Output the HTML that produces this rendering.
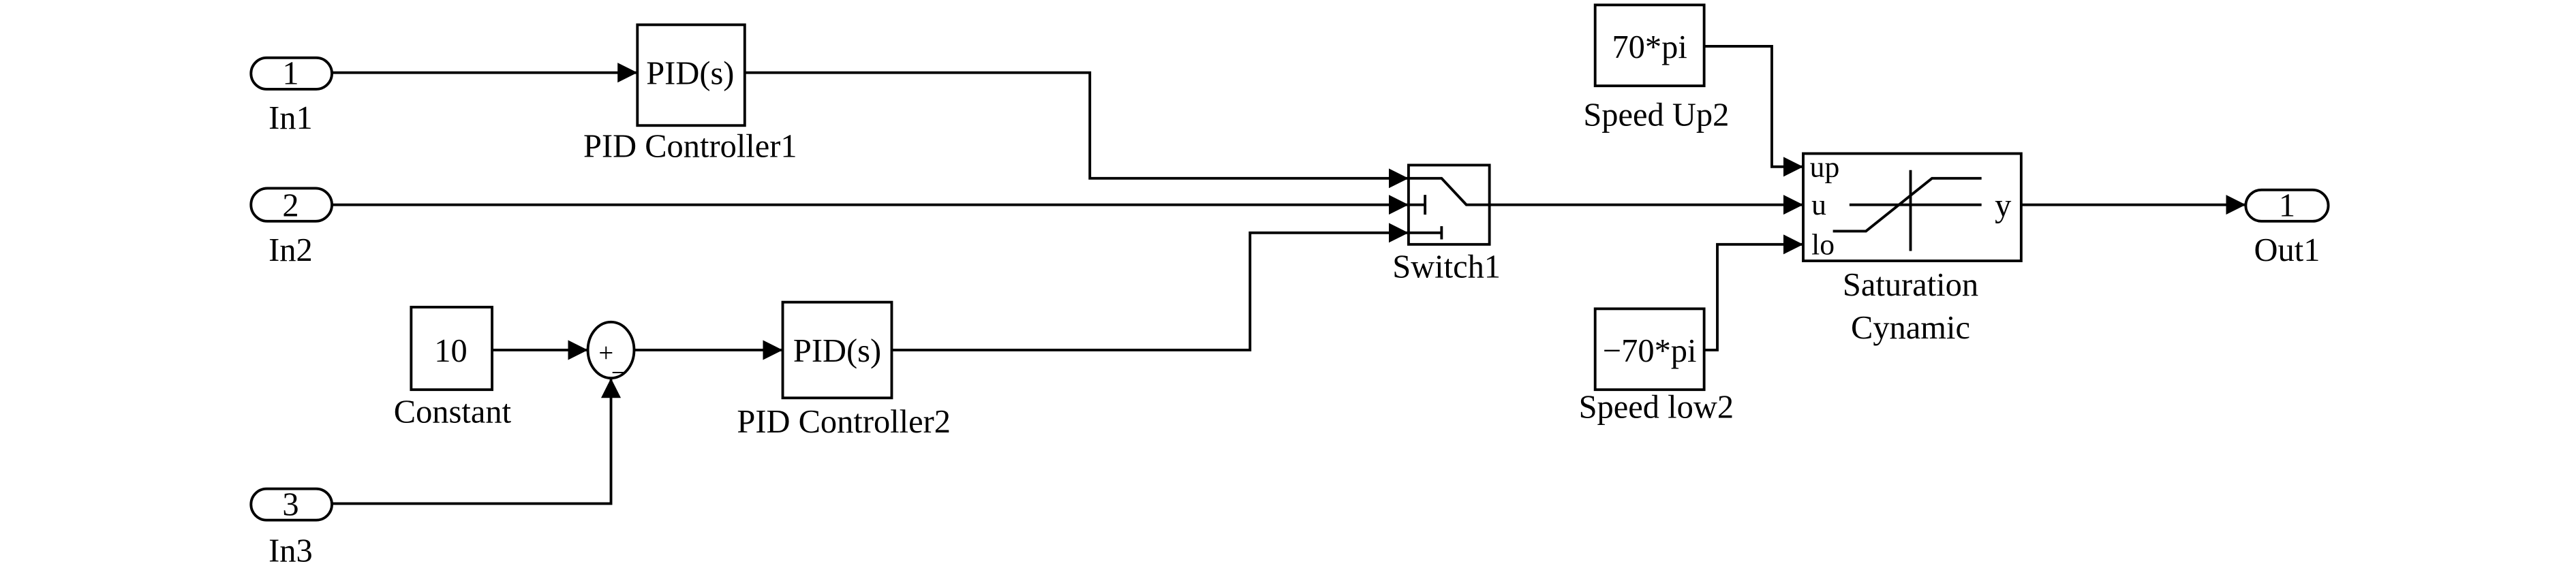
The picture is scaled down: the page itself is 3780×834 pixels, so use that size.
<!DOCTYPE html>
<html><head><meta charset="utf-8"><style>
html,body{margin:0;padding:0;background:#fff;}
svg{display:block;}
text{font-family:"Liberation Serif",serif;fill:#000;}
</style></head><body>
<svg width="3780" height="834" viewBox="0 0 1560 344" preserveAspectRatio="none" xmlns="http://www.w3.org/2000/svg">
<defs><marker id="a" markerWidth="12" markerHeight="12" refX="12" refY="6" orient="auto" markerUnits="userSpaceOnUse"><path d="M0,0 L12,6 L0,12 z" fill="#000"/></marker></defs>
<g stroke="#000" stroke-width="1.6" fill="none">
<!-- In ports -->
<rect x="152" y="35" width="49" height="19" rx="9.5"/>
<rect x="152" y="114" width="49" height="20" rx="10"/>
<rect x="152" y="296" width="49" height="19" rx="9.5"/>
<rect x="1360" y="115" width="50" height="19" rx="9.5"/>
<!-- boxes -->
<rect x="386" y="15" width="65" height="61"/>
<rect x="474" y="183" width="66" height="58"/>
<rect x="249" y="186" width="49" height="50"/>
<rect x="853" y="100" width="49" height="48"/>
<rect x="1092" y="93" width="132" height="65"/>
<rect x="966" y="3" width="66" height="49"/>
<rect x="966" y="187" width="66" height="49"/>
<ellipse cx="370" cy="212" rx="14" ry="17"/>
<!-- connectors -->
<path d="M201,44 H386" marker-end="url(#a)"/>
<path d="M451,44 H660 V108 H853" marker-end="url(#a)"/>
<path d="M201,124 H853" marker-end="url(#a)"/>
<path d="M540,212 H757 V141 H853" marker-end="url(#a)"/>
<path d="M298,212 H356" marker-end="url(#a)"/>
<path d="M201,305 H370 V229" marker-end="url(#a)"/>
<path d="M384,212 H474" marker-end="url(#a)"/>
<path d="M902,124 H1092" marker-end="url(#a)"/>
<path d="M1032,28 H1073 V101 H1092" marker-end="url(#a)"/>
<path d="M1032,212 H1040 V148 H1092" marker-end="url(#a)"/>
<path d="M1224,124 H1360" marker-end="url(#a)"/>
<!-- switch icon -->
<path d="M853,108 H873 L888,124 H902"/>
<path d="M853,124 H863 M863,118 V130"/>
<path d="M853,141 H873 M873,137 V145"/>
<!-- saturation icon -->
<path d="M1157,103 V152 M1120,124 H1200"/>
<path d="M1110,140 H1130 L1170,108 H1200"/>
</g>
<g font-size="20" text-anchor="middle">
<text x="176" y="51">1</text>
<text x="176" y="131">2</text>
<text x="176" y="312">3</text>
<text x="1385" y="131">1</text>
<text x="176" y="78">In1</text>
<text x="176" y="158">In2</text>
<text x="176" y="340">In3</text>
<text x="1385" y="158">Out1</text>
<text x="418" y="51">PID(s)</text>
<text x="418" y="95">PID Controller1</text>
<text x="507" y="219">PID(s)</text>
<text x="511" y="262">PID Controller2</text>
<text x="273" y="219">10</text>
<text x="274" y="256">Constant</text>
<text x="876" y="168">Switch1</text>
<text x="999" y="35">70*pi</text>
<text x="999" y="219">−70*pi</text>
<text x="1003" y="76">Speed Up2</text>
<text x="1003" y="253">Speed low2</text>
<text x="1157" y="179">Saturation</text>
<text x="1157" y="205">Cynamic</text>
<text x="1213" y="131">y</text>
<text x="367" y="219" font-size="16">+</text>
<text x="375" y="224" font-size="16">_</text>
</g>
<g font-size="18">
<text x="1096" y="107">up</text>
<text x="1097" y="130">u</text>
<text x="1097" y="154">lo</text>
</g>
</svg>
</body></html>
